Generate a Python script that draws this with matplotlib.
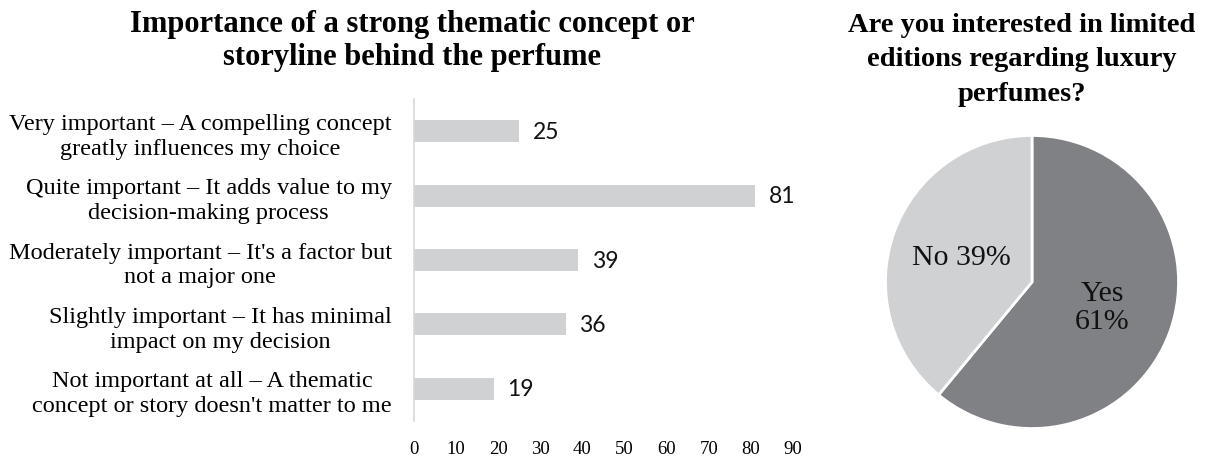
import matplotlib
matplotlib.use("Agg")
import matplotlib.pyplot as plt

# survey answers: importance of concept / storyline
categories = [
    "Very important \u2013 A compelling concept\ngreatly influences my choice",
    "Quite important \u2013 It adds value to my\ndecision-making process",
    "Moderately important \u2013 It's a factor but\nnot a major one",
    "Slightly important \u2013 It has minimal\nimpact on my decision",
    "Not important at all \u2013 A thematic\nconcept or story doesn't matter to me",
]
counts = [25, 81, 39, 36, 19]
xticks = [0, 10, 20, 30, 40, 50, 60, 70, 80, 90]

# limited editions pie
pie_labels = ["Yes", "No"]
pie_pct = [61, 39]
pie_sep = ["\n", " "]

serif = "Liberation Serif"
bar_grey = "#d0d1d3"
dark_grey = "#7f8184"

fig = plt.figure(figsize=(12.27, 4.6), dpi=100)

ax = fig.add_axes([414 / 1227, 38 / 460, 379 / 1227, 322 / 460])
ypos = list(range(len(categories)))
ax.barh(ypos, counts, height=0.34, color=bar_grey)
for y, v in zip(ypos, counts):
    ax.text(v + 3.2, y, str(v), va="center", ha="left",
            fontsize=16.5, family="Lato", color="#111111")
ax.set_xlim(0, 90)
ax.set_ylim(len(categories) - 0.5, -0.5)
ax.set_xticks(xticks)
ax.set_xticklabels([str(t) for t in xticks], family=serif, fontsize=13.5)
ax.set_yticks(ypos)
ax.set_yticklabels(categories, family=serif, fontsize=17.5,
                   multialignment="center", linespacing=1.25)
ax.tick_params(axis="both", length=0)
ax.tick_params(axis="y", pad=16)
ax.tick_params(axis="x", pad=14)
for s in ["top", "right", "bottom"]:
    ax.spines[s].set_visible(False)
ax.spines["left"].set_color("#d9d9d9")
ax.spines["left"].set_linewidth(1.2)

fig.text(412 / 1227, 1 - 41 / 460,
         "Importance of a strong thematic concept or\nstoryline behind the perfume",
         ha="center", va="center", family=serif, weight="bold",
         fontsize=22, linespacing=1.2)

# pie chart
pax = fig.add_axes([884 / 1227, 29 / 460, 296 / 1227, 296 / 460])
wedges, texts = pax.pie(
    pie_pct,
    labels=[f"{l}{s}{p}%" for l, s, p in zip(pie_labels, pie_sep, pie_pct)],
    colors=[dark_grey, bar_grey],
    startangle=90, counterclock=False, labeldistance=0.51,
    wedgeprops=dict(edgecolor="white", linewidth=2),
    textprops=dict(family=serif, fontsize=21.5, color="#111111"),
)
for t in texts:
    t.set_ha("center")
    t.set_va("center")
    t.set_linespacing(1.1)
pax.set_xlim(-1.01, 1.01)
pax.set_ylim(-1.01, 1.01)

fig.text(1022 / 1227, 1 - 60 / 460,
         "Are you interested in limited\neditions regarding luxury\nperfumes?",
         ha="center", va="center", family=serif, weight="bold",
         fontsize=20.5, linespacing=1.5)

fig.savefig("out.png", dpi=100, facecolor="white")
